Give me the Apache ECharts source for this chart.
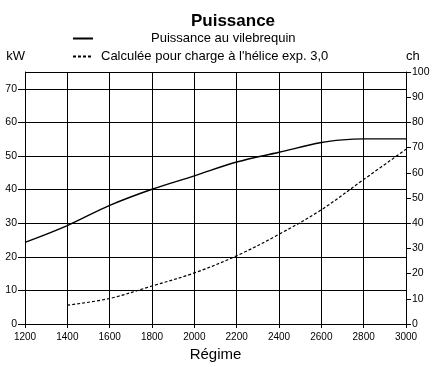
<!DOCTYPE html>
<html>
<head>
<meta charset="utf-8">
<script src="https://cdn.jsdelivr.net/npm/echarts@6/dist/echarts.min.js"></script>
<style>html,body{margin:0;padding:0;background:#fff}#c{width:434px;height:367px}</style>
</head>
<body>
<div id="c"></div>
<script>
const titleText = 'Puissance';
const seriesNames = ['Puissance au vilebrequin', "Calculée pour charge à l'hélice exp. 3,0"];
const shaftRpm = [1200, 1400, 1600, 1800, 2000, 2200, 2400, 2600, 2700, 2800, 3000];
const shaftKW  = [24.3, 29.3, 35.3, 40.1, 44.1, 48.2, 51.1, 54.0, 54.8, 55.1, 55.1];
const propRpm = [1400, 1600, 1800, 2000, 2200, 2400, 2600, 2800, 3000];
const propKW  = [5.6, 7.6, 11.3, 15.2, 20.3, 26.7, 34.0, 43.0, 52.0];
const xTicks = [1200, 3000, 200];   // min, max, step
const kwAxis = [0, 75, 10];
const chAxis = [0, 100, 10];

const narrow = "'Liberation Sans Narrow', 'Arial Narrow', 'Liberation Sans', Arial, sans-serif";
const sans = "'Liberation Sans', Arial, sans-serif";
const plain = v => String(v);
const chart = echarts.init(document.getElementById('c'), null, {renderer: 'canvas'});
chart.setOption({
  animation: false,
  backgroundColor: '#fff',
  title: {text: titleText, left: 228, textAlign: 'center', top: 8,
    textStyle: {fontFamily: sans, fontSize: 17, fontWeight: 'bold', color: '#000'}},
  legend: [
    {data: [seriesNames[0]], left: 72, top: 32, itemWidth: 20, itemHeight: 12, padding: 0,
      itemStyle: {opacity: 0},
      textStyle: {fontFamily: sans, fontSize: 13, color: '#000', padding: [0, 0, 0, 53]}},
    {data: [seriesNames[1]], left: 72, top: 50, itemWidth: 20, itemHeight: 12, padding: 0,
      itemStyle: {opacity: 0},
      textStyle: {fontFamily: sans, fontSize: 13, color: '#000', padding: [0, 0, 0, 3]}}
  ],
  grid: {left: 25, right: 28, top: 72, bottom: 43, containLabel: false},
  xAxis: [{
    type: 'value', min: xTicks[0], max: xTicks[1], interval: xTicks[2],
    name: 'Régime', nameLocation: 'middle', nameGap: 23,
    nameTextStyle: {fontFamily: sans, fontSize: 15, color: '#000'},
    axisLine: {lineStyle: {color: '#000', width: 1}},
    axisTick: {show: true, length: 4, lineStyle: {color: '#000'}},
    axisLabel: {fontFamily: narrow, fontSize: 10, color: '#000', margin: 8, formatter: plain},
    splitLine: {show: true, lineStyle: {color: '#000', width: 1}}
  }, {
    type: 'value', position: 'top', min: xTicks[0], max: xTicks[1], interval: xTicks[2],
    axisLine: {show: true, lineStyle: {color: '#000', width: 1}},
    axisTick: {show: true, length: 6, lineStyle: {color: '#000'}},
    axisLabel: {show: false}, splitLine: {show: false}
  }],
  yAxis: [{
    type: 'value', min: kwAxis[0], max: kwAxis[1], interval: kwAxis[2], position: 'left',
    name: 'kW', nameLocation: 'end', nameGap: 9,
    nameTextStyle: {fontFamily: sans, fontSize: 13, color: '#000', align: 'right'},
    axisLine: {show: true, lineStyle: {color: '#000', width: 1}},
    axisTick: {show: true, length: 7, lineStyle: {color: '#000'}},
    axisLabel: {fontFamily: narrow, fontSize: 10.5, color: '#000', margin: 8, showMaxLabel: false, formatter: plain},
    splitLine: {show: true, lineStyle: {color: '#000', width: 1}}
  }, {
    type: 'value', min: chAxis[0], max: chAxis[1], interval: chAxis[2], position: 'right',
    name: 'ch', nameLocation: 'end', nameGap: 9,
    nameTextStyle: {fontFamily: sans, fontSize: 13, color: '#000', align: 'left'},
    axisLine: {show: true, lineStyle: {color: '#000', width: 1}},
    axisTick: {show: true, length: 5, lineStyle: {color: '#000'}},
    axisLabel: {fontFamily: narrow, fontSize: 10.5, color: '#000', margin: 6, formatter: plain},
    splitLine: {show: false}
  }],
  series: [{
    name: seriesNames[0], type: 'line', xAxisIndex: 0, yAxisIndex: 0,
    data: shaftRpm.map((r, i) => [r, shaftKW[i]]),
    smooth: 0.35, symbol: 'none', showSymbol: false,
    lineStyle: {color: '#000', width: 1.4, type: 'solid'},
    itemStyle: {color: '#000'}
  }, {
    name: seriesNames[1], type: 'line', xAxisIndex: 0, yAxisIndex: 0,
    data: propRpm.map((r, i) => [r, propKW[i]]),
    smooth: 0.35, symbol: 'none', showSymbol: false,
    lineStyle: {color: '#000', width: 1.2, type: [3, 2]},
    itemStyle: {color: '#000'}
  }]
});
</script>
</body>
</html>
